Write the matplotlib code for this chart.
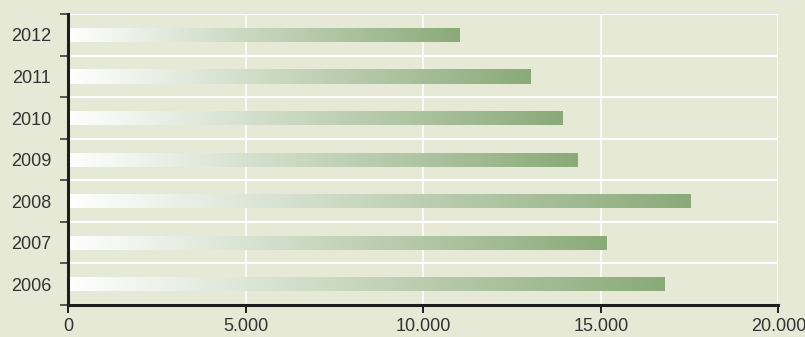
import matplotlib.pyplot as plt
import numpy as np
from matplotlib.colors import LinearSegmentedColormap
from matplotlib.ticker import FuncFormatter

plt.rcParams.update({'font.family': ['Liberation Sans', 'DejaVu Sans'], 'font.size': 13})

bg = '#e6e9d6'
green = '#8aaa78'
text_col = '#333333'

years = ['2006', '2007', '2008', '2009', '2010', '2011', '2012']
values = [16800, 15170, 17530, 14350, 13930, 13030, 11030]

cmap = LinearSegmentedColormap.from_list('fade', ['#ffffff', green])

fig = plt.figure(figsize=(8.05, 3.37), dpi=100, facecolor=bg)
ax = fig.add_axes([0.0845, 0.095, 0.8825, 0.863], facecolor=bg)

pos = np.arange(len(years))
bars = ax.barh(pos, values, height=0.34, color='none', edgecolor='none')

# gradient fill of each bar, white at the axis to full green at the bar end
grad = np.linspace(0, 1, 256).reshape(1, -1)
for b in bars:
    x0, y0 = b.get_x(), b.get_y()
    im = ax.imshow(grad, cmap=cmap, aspect='auto', interpolation='bicubic',
                   extent=(x0, x0 + b.get_width(), y0, y0 + b.get_height()), zorder=2)
    im.set_clip_path(b)

ax.set_xlim(0, 20000)
ax.set_ylim(-0.5, len(years) - 0.5)

ax.set_xticks(range(0, 20001, 5000))
ax.xaxis.set_major_formatter(FuncFormatter(lambda v, p: f'{int(v):,}'.replace(',', '.')))
ax.set_yticks(pos)
ax.set_yticklabels(years)
ax.set_yticks(np.arange(-0.5, len(years)), minor=True)

ax.grid(axis='x', which='major', color='white', lw=1.1, zorder=1)
ax.grid(axis='y', which='minor', color='white', lw=1.6, zorder=1)
ax.set_axisbelow(True)

for s in ['top', 'right']:
    ax.spines[s].set_visible(False)
for s in ['left', 'bottom']:
    ax.spines[s].set_linewidth(2.2)
    ax.spines[s].set_color('#1e1e1e')
    ax.spines[s].set_zorder(5)

ax.tick_params(axis='y', which='major', length=0, pad=12, labelcolor=text_col)
ax.tick_params(axis='y', which='minor', length=6, width=1.4, color='#555555')
ax.tick_params(axis='x', which='major', length=6, width=1.4, color='#1e1e1e', pad=3.5, labelcolor=text_col)

fig.savefig('out.png', dpi=100, facecolor=bg)
